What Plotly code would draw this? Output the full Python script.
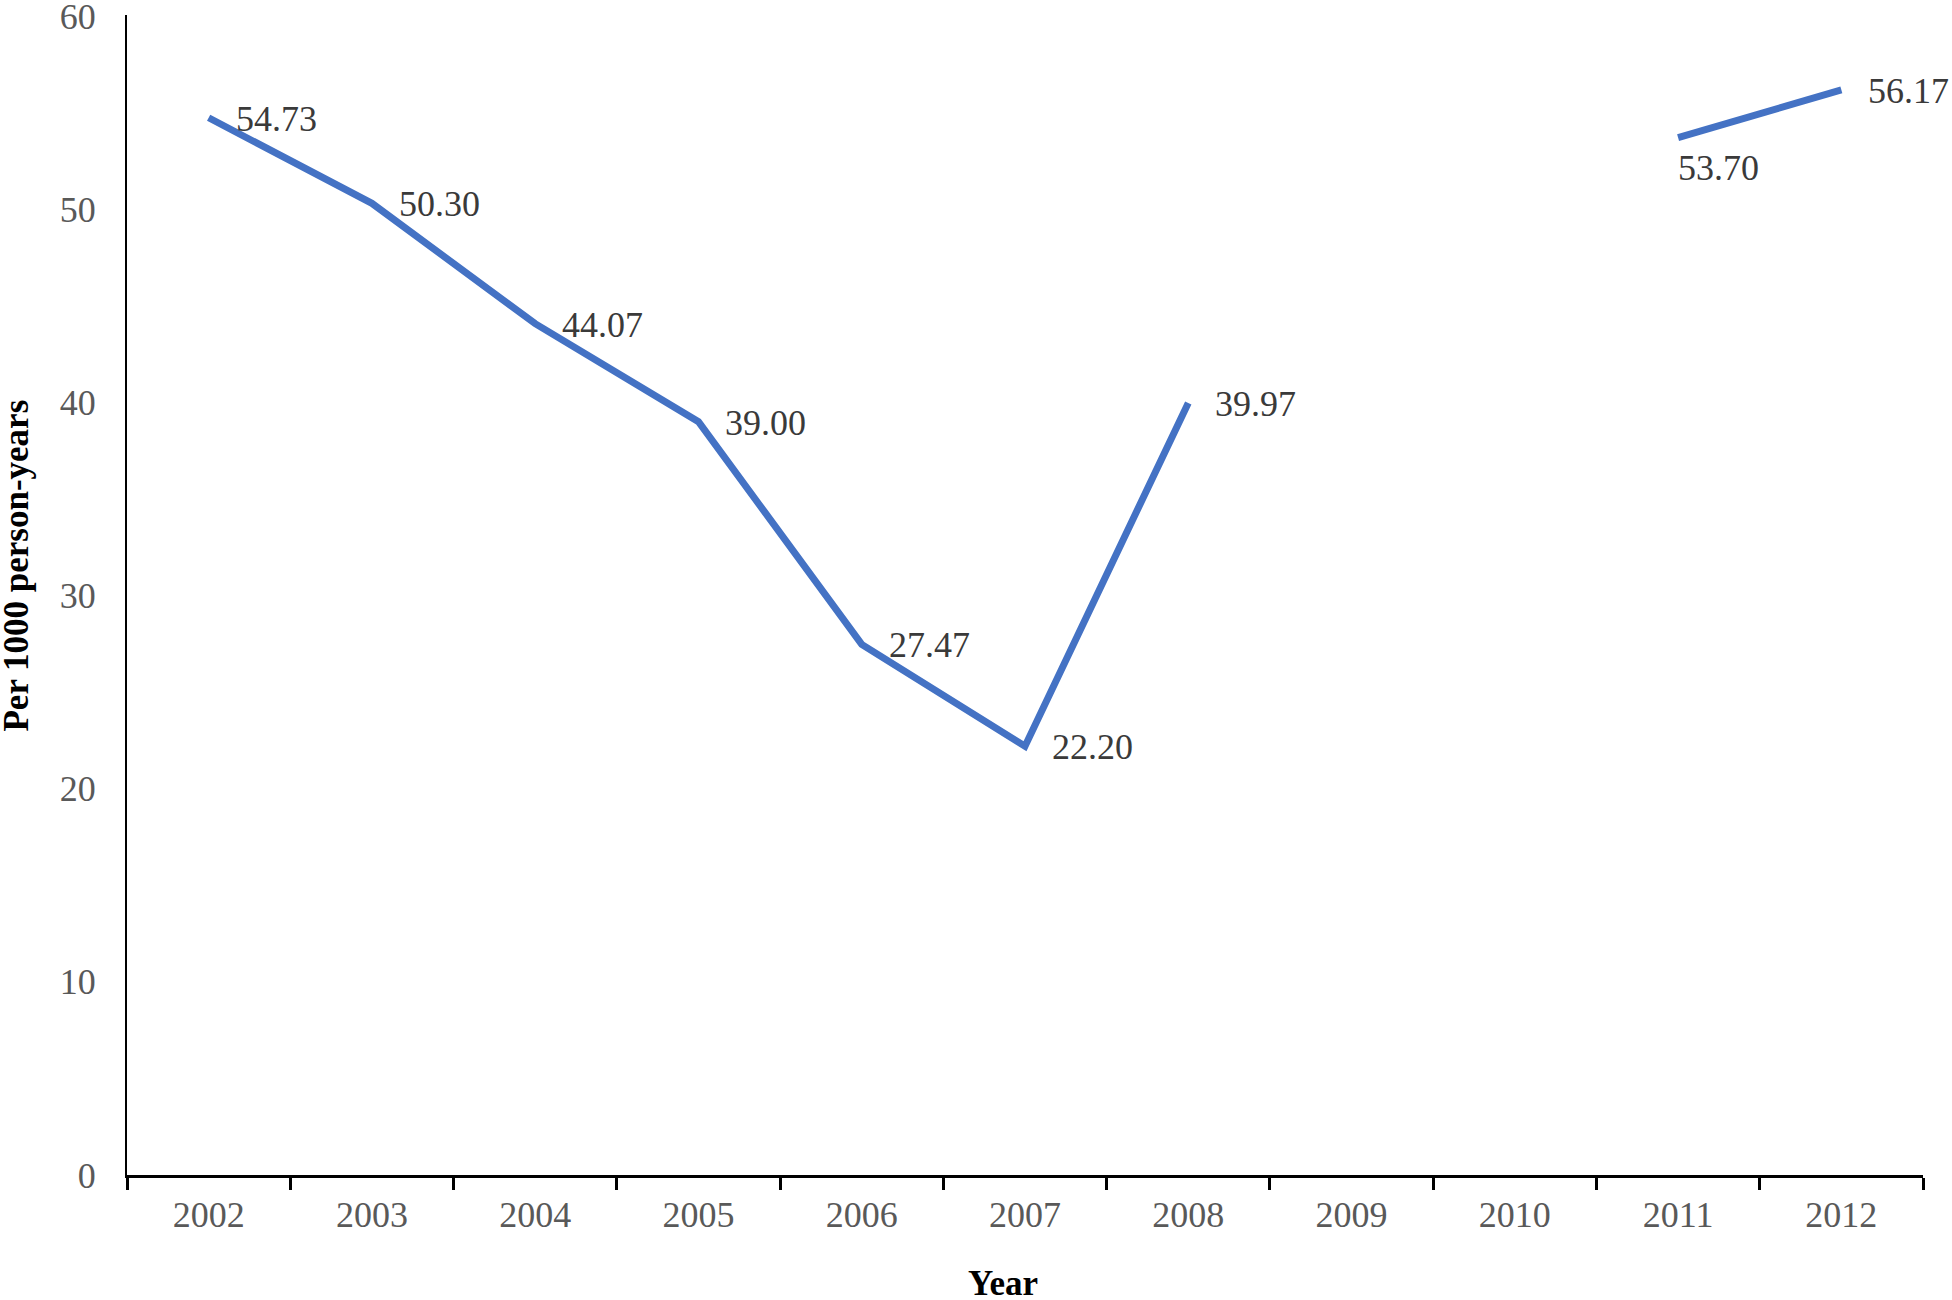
import plotly.graph_objects as go

years = ["2002", "2003", "2004", "2005", "2006", "2007", "2008", "2009", "2010", "2011", "2012"]
rates = [54.73, 50.30, 44.07, 39.00, 27.47, 22.20, 39.97, None, None, 53.70, 56.17]
label_pos = ["right", "right", "right", "right", "right", "right", "right", None, None, "below", "right"]
y_ticks = [0, 10, 20, 30, 40, 50, 60]
x_title = "Year"
y_title = "Per 1000 person-years"

FONT = "Liberation Serif, Times New Roman, serif"

fig = go.Figure()
fig.add_trace(go.Scatter(
    x=years, y=rates, mode="lines",
    line=dict(color="#4472C4", width=7),
    connectgaps=False, hoverinfo="skip", showlegend=False,
))

for i, (v, pos) in enumerate(zip(rates, label_pos)):
    if v is None:
        continue
    if pos == "right":
        fig.add_annotation(x=i, y=v, xref="x", yref="y", text=f"{v:.2f}",
                           showarrow=False, xanchor="left", yanchor="middle",
                           xshift=25, yshift=-1,
                           font=dict(family=FONT, size=36, color="#3a3a3a"))
    else:
        fig.add_annotation(x=i, y=v, xref="x", yref="y", text=f"{v:.2f}",
                           showarrow=False, xanchor="left", yanchor="top",
                           xshift=-2, yshift=-8,
                           font=dict(family=FONT, size=36, color="#3a3a3a"))

# axis titles (placed as in the reference, slightly off-centre)
fig.add_annotation(xref="paper", yref="paper", x=0, y=0.5254, xshift=-110,
                   text=f"<b>{y_title}</b>", textangle=-90, showarrow=False,
                   xanchor="center", yanchor="middle",
                   font=dict(family=FONT, size=35, color="black"))
fig.add_annotation(xref="paper", yref="paper", x=0.5, y=0, xshift=-22, yshift=-108,
                   text=f"<b>{x_title}</b>", showarrow=False,
                   xanchor="center", yanchor="middle",
                   font=dict(family=FONT, size=35, color="black"))

fig.update_layout(
    width=1952, height=1300,
    paper_bgcolor="white", plot_bgcolor="white",
    margin=dict(l=127, r=29, t=15, b=125),
    font=dict(family=FONT, size=36, color="#595959"),
    xaxis=dict(
        type="category", categoryorder="array", categoryarray=years,
        range=[-0.5, 10.5], automargin=False,
        showline=True, linecolor="black", linewidth=3,
        ticks="outside", tickson="boundaries", ticklen=12, tickwidth=2.5, tickcolor="black",
        showgrid=False, zeroline=False,
        ticklabelstandoff=6,
        tickfont=dict(family=FONT, size=36, color="#595959"),
    ),
    yaxis=dict(
        range=[0, 60.05], tickvals=y_ticks, automargin=False,
        showline=True, linecolor="black", linewidth=2,
        ticks="", showgrid=False, zeroline=False,
        ticklabelstandoff=22, ticklabeloverflow="allow",
        tickfont=dict(family=FONT, size=36, color="#595959"),
    ),
)

fig.write_html("out.html", config={"displayModeBar": False},
               post_script="document.body.style.margin='0';document.body.style.overflow='hidden';")
